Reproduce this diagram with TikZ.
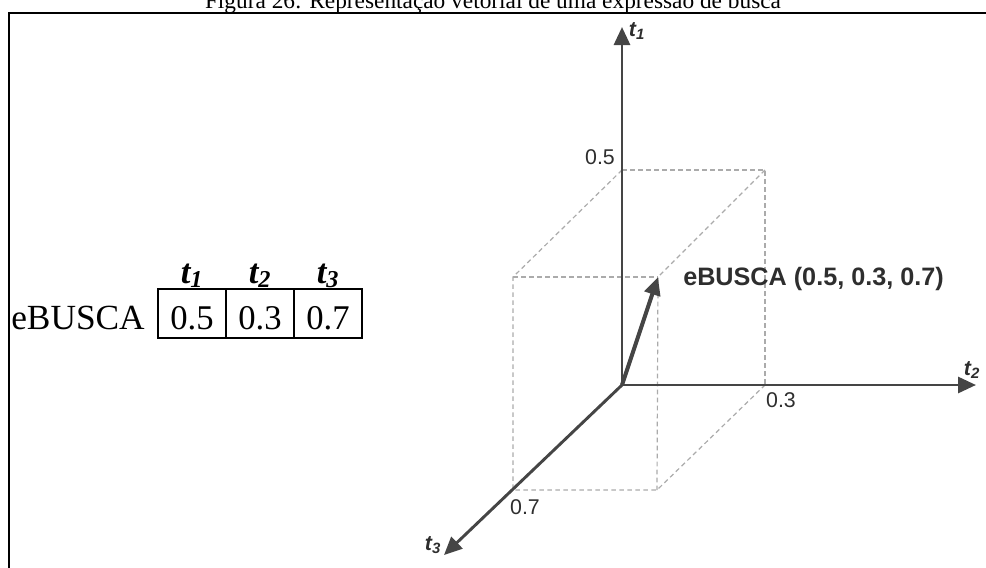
\documentclass[tikz,border=0pt]{standalone}
\usepackage{fontspec}
\setmainfont{Liberation Serif}
\setsansfont{Liberation Sans}
\usepackage{xcolor}
\usepackage{tikz}
\usetikzlibrary{calc}
\usetikzlibrary{positioning}
\usetikzlibrary{arrows.meta}

\definecolor{axisgray}{HTML}{454545}
\definecolor{boxgray}{HTML}{ABABAB}
\definecolor{labelgray}{HTML}{2E2E2E}

\begin{document}
\begin{tikzpicture}[x=0.75pt, y=-0.75pt,
  >={Triangle[length=13.5pt, width=12pt]},
  axis/.style={->, draw=axisgray, line width=2.2pt},
  vec/.style={->, draw=axisgray, line width=3pt},
  guide/.style={draw=boxgray, line width=0.9pt, dash pattern=on 3.5pt off 2.5pt},
  cell/.style={rectangle, draw, line width=1.1pt, inner sep=0pt, outer sep=0pt, minimum width=51pt, text height=30pt, text depth=6.75pt, font=\fontsize{26}{30}\selectfont},
  head/.style={font=\fontsize{26}{30}\selectfont\bfseries\itshape, inner sep=0pt},
  axlabel/.style={font=\fontsize{16}{19}\selectfont\sffamily\bfseries\itshape, text=labelgray, inner sep=0pt},
  value/.style={font=\fontsize{16}{19}\selectfont\sffamily, text=labelgray, inner sep=0pt},
  caption/.style={font=\fontsize{17.5}{20}\selectfont, inner sep=0pt}]

  \useasboundingbox (0,0) rectangle (986,568);

  \node[caption, anchor=base] (title) at (493,8.5) {Figura 26: Representação vetorial de uma expressão de busca};
  \draw[line width=1.4pt] (9,568) -- (9,13) -- (986,13);

  \node[anchor=base west, inner sep=0pt, font=\fontsize{26.5}{30}\selectfont] (qname) at (11,329) {eBUSCA};
  \node[cell] (c1) at (192,313.5) {0.5};
  \node[cell, right=0pt of c1] (c2) {0.3};
  \node[cell, right=0pt of c2] (c3) {0.7};
  \node[head, anchor=base] (h1) at ([yshift=4.5pt]c1.north) {t\textsubscript{1}};
  \node[head, anchor=base] (h2) at ([yshift=4.5pt]c2.north) {t\textsubscript{2}};
  \node[head, anchor=base] (h3) at ([yshift=4.5pt]c3.north) {t\textsubscript{3}};

  \coordinate (o) at (622,385);
  \coordinate (x1) at (622,170);
  \coordinate (x2) at (765,385);
  \coordinate (x3) at (513,490);
  \coordinate (x12) at (765,170);
  \coordinate (x13) at (513,277);
  \coordinate (x23) at (657,490);
  \coordinate (q) at (658,277);
  \coordinate (t1end) at (622,27);
  \coordinate (t2end) at (976,385);
  \coordinate (t3end) at (444,555);

  \draw[guide] (x1) -- (x12) -- (x2);
  \draw[guide] (x1) -- (x13) -- (x3) -- (x23) -- (x2);
  \draw[guide] (x12) -- (q) -- (x23);
  \draw[guide] (x13) -- (q);

  \draw[axis] (o) -- (t1end);
  \draw[axis] (o) -- (t2end);
  \draw[axis] (o) -- (t3end);
  \draw[vec] (o) -- (q);

  \node[axlabel] (l1) at (637,31) {t\textsubscript{1}};
  \node[axlabel] (l2) at (972,370) {t\textsubscript{2}};
  \node[axlabel] (l3) at (433,545) {t\textsubscript{3}};
  \node[value] (v1) at (600,157) {0.5};
  \node[value] (v2) at (781,400) {0.3};
  \node[value] (v3) at (525,507) {0.7};
  \node[anchor=base west, inner sep=0pt, font=\fontsize{18.9}{22}\selectfont\sffamily\bfseries, text=labelgray] (qlabel) at (683,285) {eBUSCA (0.5, 0.3, 0.7)};
\end{tikzpicture}
\end{document}
